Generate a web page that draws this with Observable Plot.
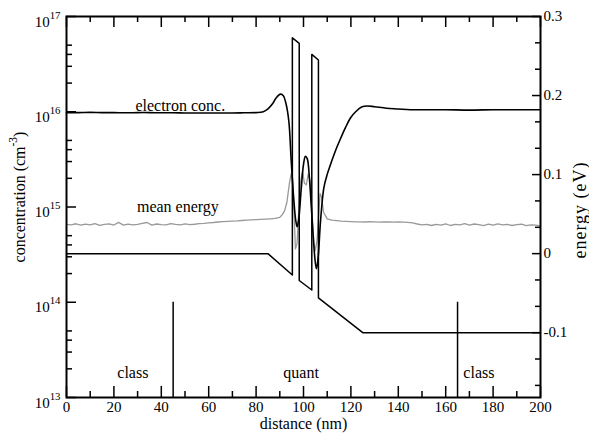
<!DOCTYPE html>
<html>
<head>
<meta charset="utf-8">
<script src="https://cdn.jsdelivr.net/npm/d3@7"></script>
<script src="https://cdn.jsdelivr.net/npm/@observablehq/plot@0.6"></script>
<style>
  html, body { margin: 0; padding: 0; background: white; }
</style>
</head>
<body>
<div id="chart"></div>
<script>
// ---- data ----
const concX = [0, 5, 10, 15, 20, 25, 30, 35, 40, 45, 50, 55, 60, 65, 70, 75, 80,
  83, 85, 87, 88.5, 90.3, 91.5, 92.5, 93.8, 94.8, 95.9, 96.7, 97.3, 98, 99, 100, 100.8,
  101.6, 102.5, 103.3, 104.2, 105, 105.5, 106.2, 107.2, 108.6, 110, 111.4, 113.5, 115.6,
  117.7, 119.8, 122, 124.5, 127, 130, 135, 140, 145, 150, 160, 170, 180, 190, 200];
const concY = [9.8e15, 9.8e15, 9.85e15, 9.8e15, 9.8e15, 9.75e15, 9.8e15, 9.8e15, 9.75e15,
  9.75e15, 9.7e15, 9.7e15, 9.7e15, 9.7e15, 9.7e15, 9.75e15, 9.8e15,
  1.0e16, 1.07e16, 1.22e16, 1.4e16, 1.53e16, 1.47e16, 1.25e16, 8e15, 3.1e15, 1.2e15,
  7.3e14, 6.2e14, 7.5e14, 1.5e15, 2.8e15, 3.4e15, 3.2e15, 2e15, 1e15, 4.5e14, 2.6e14,
  2.25e14, 3e14, 7.2e14, 1.6e15, 2.2e15, 2.8e15, 3.9e15, 5.2e15, 6.8e15, 8.6e15, 1.0e16,
  1.12e16, 1.15e16, 1.13e16, 1.09e16, 1.07e16, 1.05e16, 1.05e16, 1.05e16, 1.04e16,
  1.05e16, 1.05e16, 1.05e16];

const energyX = [0, 2, 4, 6, 8, 10, 12, 14, 16, 18, 20, 22, 24, 26, 28, 30, 32, 34, 36, 38,
  40, 42, 44, 46, 48, 50, 52, 54, 56,
  58, 60, 62, 64, 66, 68, 70, 72, 74, 76, 78, 80, 82, 84, 86, 88, 90,
  91, 92, 93, 94, 94.8, 95.4, 96, 96.6, 97.3, 98, 98.8, 99.6, 100.4, 101.2, 102, 102.8,
  103.6, 104.4, 105, 105.7, 106.4, 107, 107.6, 108.5, 110,
  112, 114, 116, 118, 120, 122, 124, 126, 128, 130, 132, 134, 136, 138, 140, 142, 144, 146, 148,
  150, 152, 154, 156, 158, 160, 162, 164, 166, 168, 170, 172, 174, 176, 178, 180, 182, 184,
  186, 188, 190, 192, 194, 196, 198, 200];
const energyY = [0.0370, 0.0365, 0.0378, 0.0360, 0.0374, 0.0364, 0.0380, 0.0357, 0.0370,
  0.0376, 0.0362, 0.0396, 0.0360, 0.0374, 0.0364, 0.0370, 0.0384, 0.0394, 0.0360, 0.0375,
  0.0368, 0.0364, 0.0380, 0.0370, 0.0365, 0.0376, 0.0366, 0.0372, 0.0380,
  0.0384, 0.0390, 0.0394, 0.0400, 0.0404, 0.0408, 0.0411, 0.0414, 0.0419, 0.0423, 0.0427,
  0.0430, 0.0433, 0.0436, 0.0440, 0.0445, 0.0460,
  0.049, 0.054, 0.065, 0.088, 0.101, 0.094, 0.052, 0.006, 0.013, 0.055, 0.092, 0.104, 0.089,
  0.087, 0.101, 0.092, 0.052, 0.012, 0.004, 0.016, 0.050, 0.076, 0.072, 0.052, 0.044,
  0.0425, 0.0418, 0.0412, 0.0408, 0.0405, 0.0402, 0.0403, 0.0400, 0.0404, 0.0401, 0.0399,
  0.0403, 0.0400, 0.0398, 0.0402, 0.0399, 0.0396, 0.0388, 0.0375,
  0.0365, 0.0370, 0.0356, 0.0371, 0.0360, 0.0376, 0.0356, 0.0370, 0.0364, 0.0380, 0.0360,
  0.0375, 0.0366, 0.0355, 0.0372, 0.0360, 0.0376, 0.0364, 0.0370, 0.0356, 0.0366, 0.0372,
  0.0355, 0.0364, 0.0360, 0.0352];

const bandX = [0, 85, 95.3, 95.3, 98.2, 98.2, 103.5, 103.5, 106.3, 106.3, 125, 200];
const bandY = [0, 0, -0.027, 0.273, 0.266, -0.034, -0.046, 0.252, 0.245, -0.056, -0.1, -0.1];

const boundaryX = [45, 165];
const regionNames = ["class", "quant", "class"];
const regionX = [28, 99, 174];
const curveLabels = ["electron conc.", "mean energy"];

const xMajorTicks = [0, 20, 40, 60, 80, 100, 120, 140, 160, 180, 200];
const xMinorTicks = [10, 30, 50, 70, 90, 110, 130, 150, 170, 190];
const concMajorTicks = [1e13, 1e14, 1e15, 1e16, 1e17];
const concMinorMultipliers = [2, 3, 4, 5];
const energyMajorTicks = [-0.1, 0, 0.1, 0.2, 0.3];
const energyMinorTicks = [-0.1667, -0.1333, -0.0667, -0.0333, 0.0333, 0.0667, 0.1333, 0.1667, 0.2333, 0.2667];

const xLabel = "distance (nm)";
const yLeftLabel = "concentration (cm^{-3})";
const yRightLabel = "energy (eV)";

// ---- build ----
const W = 589, H = 437, ML = 66, MR = 49, MT = 16, MB = 40;
const FW = W - ML - MR, FH = H - MT - MB;   // frame size
const eMin = -0.182, eMax = 0.3;
const toConc = e => Math.pow(10, 13 + 4 * (e - eMin) / (eMax - eMin));

const conc = concX.map((x, i) => ({x, c: concY[i]}));
const meanE = energyX.map((x, i) => ({x, e: energyY[i]}));
const band = bandX.map((x, i) => ({x, e: bandY[i]}));
const regions = regionNames.map((name, i) => ({name, x: regionX[i]}));
const concMinorTicks = concMajorTicks.slice(0, -1).flatMap(d => concMinorMultipliers.map(m => d * m));

const FONT = "'Liberation Serif', 'Times New Roman', serif";
const LBL = 16;   // label font size
const TCK = 15;   // tick label font size
const TW = 1.5;   // tick stroke width

const plot = Plot.plot({
  width: W,
  height: H,
  marginLeft: ML,
  marginRight: MR,
  marginTop: MT,
  marginBottom: MB,
  style: {fontFamily: FONT, fontSize: "15px", background: "white", color: "black"},
  x: {domain: [0, 200], axis: null},
  y: {type: "log", domain: [1e13, 1e17], axis: null},
  marks: [
    Plot.line(meanE, {x: "x", y: d => toConc(d.e), stroke: "#999999", strokeWidth: 1.3}),
    Plot.line(band, {x: "x", y: d => toConc(d.e), stroke: "black", strokeWidth: 1.5}),
    Plot.line(conc, {x: "x", y: "c", stroke: "black", strokeWidth: 1.6, curve: "catmull-rom"}),
    Plot.ruleX(boundaryX, {x: d => d, y1: 1e13, y2: 1e14, stroke: "black", strokeWidth: 1.5}),
    Plot.text(regions, {x: "x", y: 1.6e13, text: "name", lineAnchor: "bottom", fill: "black", fontSize: LBL}),
    Plot.text([curveLabels[0]], {x: 48, y: 1.03e16, text: d => d, lineAnchor: "bottom", fill: "black", fontSize: LBL}),
    Plot.text([curveLabels[1]], {x: 47, y: toConc(0.053), text: d => d, lineAnchor: "bottom", fill: "black", fontSize: LBL}),
    Plot.text([xLabel], {frameAnchor: "bottom", textAnchor: "middle", dy: 31, text: d => d, lineAnchor: "bottom", fill: "black", fontSize: LBL}),
    Plot.text([yLeftLabel], {frameAnchor: "left", textAnchor: "middle", rotate: -90, dx: -42, dy: -10, text: d => d, lineAnchor: "bottom", fill: "black", fontSize: LBL}),
    Plot.text([yRightLabel], {frameAnchor: "right", textAnchor: "middle", rotate: -90, dx: 45, dy: 3, text: d => d, lineAnchor: "bottom", fill: "black", fontSize: 18}),
    // ticks (inward)
    Plot.ruleX(xMajorTicks, {x: d => d, insetTop: FH - 11, stroke: "black", strokeWidth: TW}),
    Plot.ruleX(xMinorTicks, {x: d => d, insetTop: FH - 6, stroke: "black", strokeWidth: TW}),
    Plot.ruleX(xMajorTicks, {x: d => d, insetBottom: FH - 11, stroke: "black", strokeWidth: TW}),
    Plot.ruleX(xMinorTicks, {x: d => d, insetBottom: FH - 6, stroke: "black", strokeWidth: TW}),
    Plot.ruleY(concMajorTicks, {y: d => d, insetRight: FW - 10, stroke: "black", strokeWidth: TW}),
    Plot.ruleY(concMinorTicks, {y: d => d, insetRight: FW - 6, stroke: "black", strokeWidth: TW}),
    Plot.ruleY(energyMajorTicks, {y: d => toConc(d), insetLeft: FW - 8, stroke: "black", strokeWidth: TW}),
    Plot.ruleY(energyMinorTicks, {y: d => toConc(d), insetLeft: FW - 5, stroke: "black", strokeWidth: TW}),
    // tick labels
    Plot.text(xMajorTicks, {x: d => d, frameAnchor: "bottom", textAnchor: "middle", lineAnchor: "top", dy: 4, text: d => String(d), fill: "black", fontSize: TCK}),
    Plot.text(concMajorTicks, {y: d => d, frameAnchor: "left", textAnchor: "end", lineAnchor: "bottom", dx: -6, dy: 10, text: d => `10^{${Math.round(Math.log10(d))}}`, fill: "black", fontSize: TCK}),
    Plot.text(energyMajorTicks, {y: d => toConc(d), frameAnchor: "right", textAnchor: "start", dx: 3, text: d => String(d), fill: "black", fontSize: TCK}),
    Plot.frame({stroke: "black", strokeWidth: 2})
  ]
});

document.getElementById("chart").appendChild(plot);

// superscripts: text of the form "base^{sup}rest"
d3.select(plot).selectAll("text").each(function() {
  const t = this.textContent;
  const m = /^(.*)\^\{(.+?)\}(.*)$/.exec(t);
  if (!m) return;
  const el = d3.select(this);
  el.text(m[1]);
  el.append("tspan").attr("dy", "-8").attr("font-size", "72%").text(m[2]);
  if (m[3]) el.append("tspan").attr("dy", "8").text(m[3]);
});
// the right-hand axis title is drawn slightly spaced out, as in the reference
d3.select(plot).selectAll("text").filter(function() { return this.textContent === yRightLabel; })
  .attr("letter-spacing", "1");
</script>
</body>
</html>
